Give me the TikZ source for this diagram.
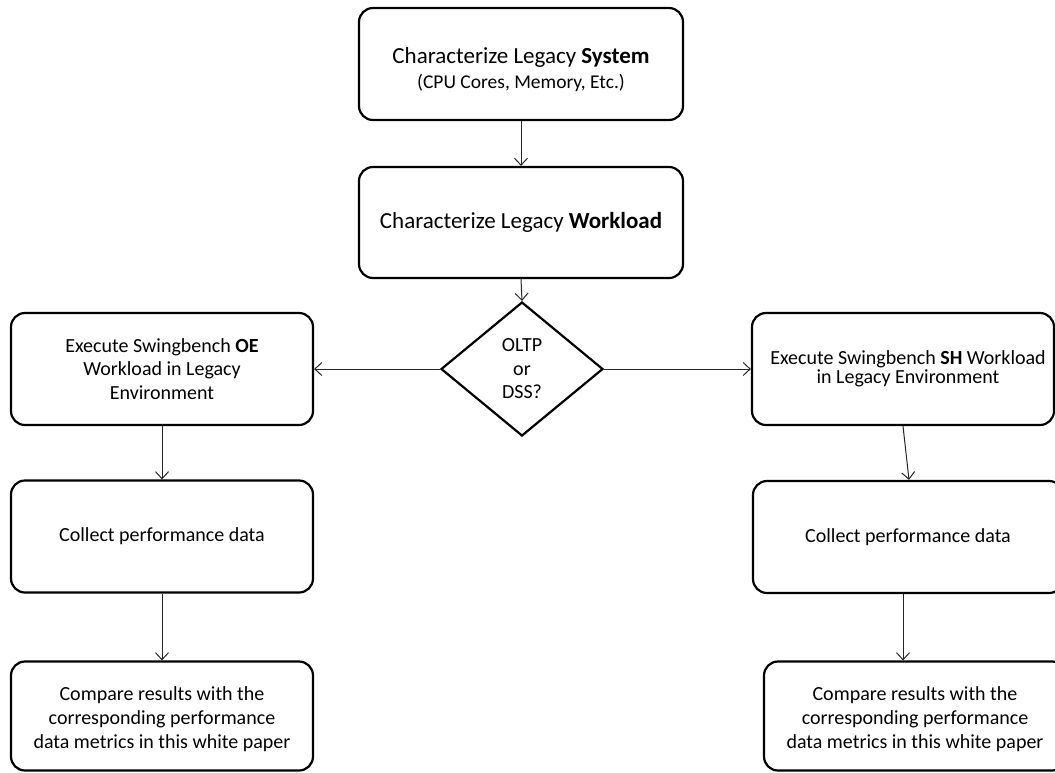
\documentclass[tikz,border=0pt]{standalone}
\usepackage{fontspec}
\setmainfont{Carlito}
\usetikzlibrary{arrows.meta,shapes.geometric}
\begin{document}
\begin{tikzpicture}[x=1pt,y=-1pt,
  box/.style={draw=black,line width=2.2pt,rounded corners=14pt,rectangle,inner sep=0pt,align=center,text=black},
  bigtxt/.style={font=\fontsize{23}{27}\selectfont},
  smalltxt/.style={font=\fontsize{20}{23.5}\selectfont},
  cmptxt/.style={font=\fontsize{20}{24}\selectfont},
  conn/.style={draw=black!85,line width=1pt,-{Straight Barb[length=7pt,width=13pt,line width=1pt]}},
  dec/.style={draw=black,line width=2.2pt,diamond,inner sep=0pt,align=center,text=black,minimum width=162pt,minimum height=134pt}
]
\useasboundingbox (0,0) rectangle (1055,772);
\node[box,bigtxt,minimum width=324pt,minimum height=112pt] (sys) at (521,64) {\rule{0pt}{27pt}Characterize Legacy \textbf{System}\\[-2pt]{\fontsize{19.5}{20}\selectfont (CPU Cores, Memory, Etc.)}};
\node[box,bigtxt,minimum width=324pt,minimum height=111pt] (wl) at (521,222.5) {Characterize Legacy \textbf{Workload}};
\node[dec,smalltxt] (dss) at (522,369) {OLTP\\or\\DSS?};
\node[box,smalltxt,minimum width=302pt,minimum height=112pt] (loe) at (162,369) {Execute Swingbench \textbf{OE}\\Workload in Legacy\\Environment};
\node[box,smalltxt,minimum width=302pt,minimum height=112pt] (rsh) at (903,369) {\hspace*{10pt}Execute Swingbench \textbf{SH} Workload\\[-4.5pt]\hspace*{10pt}in Legacy Environment};
\node[box,smalltxt,minimum width=302pt,minimum height=112pt] (lcol) at (162,536.5) {Collect performance data};
\node[box,smalltxt,minimum width=310pt,minimum height=112pt] (rcol) at (908,537) {Collect performance data};
\node[box,cmptxt,minimum width=302pt,minimum height=109pt] (lcmp) at (162,716) {\rule{0pt}{20pt}Compare results with the\\corresponding performance\\data metrics in this white paper};
\node[box,cmptxt,minimum width=302pt,minimum height=109pt] (rcmp) at (915,716) {\rule{0pt}{20pt}Compare results with the\\corresponding performance\\data metrics in this white paper};
\draw[conn] (sys) -- (wl);
\draw[conn] (wl.south) -- (dss.north);
\draw[conn] (dss.west) -- (loe.east);
\draw[conn] (dss.east) -- (rsh.west);
\draw[conn] (loe) -- (lcol);
\draw[conn] (lcol) -- (lcmp);
\draw[conn] (rsh.south) -- ([xshift=6pt]rcol.north -| rsh.south);
\draw[conn] (rcol.south -| rsh.south) -- (rcmp.north -| rsh.south);
\end{tikzpicture}
\end{document}
